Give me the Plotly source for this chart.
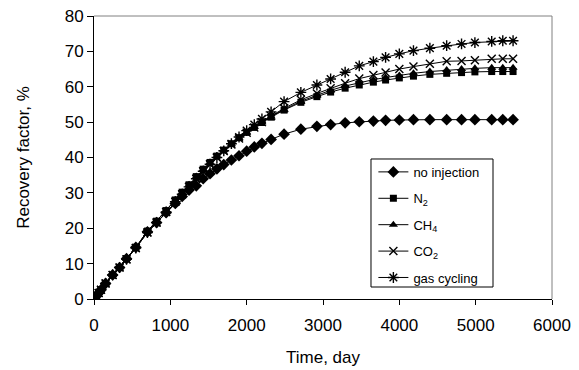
import plotly.graph_objects as go

days = [0, 30, 61, 91, 152, 244, 335, 426, 548, 700, 820, 945, 1065, 1155, 1245,
        1340, 1430, 1520, 1610, 1700, 1800, 1900, 2000, 2100, 2200, 2320, 2490,
        2710, 2920, 3100, 3290, 3475, 3660, 3820, 4000, 4185, 4400, 4620, 4815,
        4990, 5210, 5355, 5490]

no_injection = [0, 0.8, 1.7, 2.6, 4.4, 6.8, 8.9, 11.4, 14.6, 19.0, 21.6, 24.4, 27.0,
                29.0, 30.8, 32.0, 34.0, 35.4, 36.8, 38.0, 39.3, 40.5, 41.8, 43.0,
                44.0, 45.1, 46.6, 48.0, 48.8, 49.3, 49.8, 50.1, 50.3, 50.5, 50.6,
                50.7, 50.7, 50.7, 50.7, 50.7, 50.7, 50.7, 50.7]

n2 = [0, 0.8, 1.7, 2.6, 4.4, 6.8, 8.9, 11.4, 14.6, 19.2, 22.0, 25.0, 28.0, 30.2,
      32.3, 34.6, 36.7, 38.6, 40.4, 42.1, 43.9, 45.6, 47.1, 48.5, 49.9, 51.4, 53.4,
      55.6, 57.2, 58.5, 59.6, 60.5, 61.3, 61.9, 62.5, 63.0, 63.5, 63.8, 64.0, 64.2,
      64.3, 64.3, 64.3]

ch4 = [0, 0.8, 1.7, 2.6, 4.4, 6.8, 8.9, 11.4, 14.6, 19.2, 22.0, 25.0, 28.0, 30.2,
       32.3, 34.6, 36.7, 38.6, 40.4, 42.1, 43.9, 45.6, 47.1, 48.6, 50.0, 51.6, 53.6,
       55.9, 57.6, 59.0, 60.2, 61.2, 62.0, 62.6, 63.2, 63.8, 64.3, 64.7, 65.0, 65.2,
       65.4, 65.4, 65.4]

co2 = [0, 0.8, 1.7, 2.6, 4.4, 6.8, 8.9, 11.2, 14.4, 18.8, 21.6, 24.6, 27.5, 29.6,
       31.7, 34.0, 36.1, 38.1, 40.0, 41.8, 43.7, 45.4, 47.0, 48.5, 50.0, 51.7, 53.9,
       56.3, 58.1, 59.6, 61.0, 62.3, 63.3, 64.0, 65.0, 65.7, 66.5, 67.2, 67.3, 67.5,
       67.9, 67.9, 67.9]

gas_cycling = [0, 0.8, 1.7, 2.6, 4.4, 6.8, 8.9, 11.2, 14.4, 18.8, 21.6, 24.6, 27.5,
               29.6, 31.7, 34.0, 36.1, 38.1, 40.0, 41.9, 43.9, 45.8, 47.6, 49.3,
               50.9, 52.9, 55.8, 58.4, 60.5, 62.2, 64.1, 65.9, 67.1, 68.3, 69.3,
               70.2, 70.9, 71.6, 72.1, 72.5, 72.8, 73.0, 73.0]

x_ticks = [0, 1000, 2000, 3000, 4000, 5000, 6000]
y_ticks = [0, 10, 20, 30, 40, 50, 60, 70, 80]

series = [
    ("no injection", no_injection, "diamond", 9, 0),
    ("N<sub>2</sub>", n2, "square", 7, 0),
    ("CH<sub>4</sub>", ch4, "triangle-up", 8, 0),
    ("CO<sub>2</sub>", co2, "x-thin-open", 8, 1.4),
    ("gas cycling", gas_cycling, "asterisk-open", 9, 1.4),
]

fig = go.Figure()
for i, (name, vals, sym, size, lw) in enumerate(series):
    fig.add_trace(go.Scatter(
        x=days, y=vals, name=name, mode="lines+markers",
        line=dict(color="black", width=1),
        marker=dict(symbol=sym, size=size, color="black",
                    line=dict(color="black", width=lw)),
        legendgroup="g%d" % i,
    ))

font = "Liberation Sans, Arial, sans-serif"
fig.update_layout(
    width=579, height=370,
    margin=dict(l=94, r=27, t=16, b=71),
    paper_bgcolor="white", plot_bgcolor="white",
    font=dict(family=font, size=17, color="black"),
    showlegend=True,
    legend=dict(x=0.61, y=0.502, xanchor="left", yanchor="top",
                bgcolor="rgba(0,0,0,0)", borderwidth=0,
                font=dict(size=13, family=font), itemwidth=30,
                tracegroupgap=6.5),
    xaxis=dict(range=[0, 6000], tickvals=x_ticks, ticks="outside", ticklen=5,
               tickcolor="black", showline=True, linecolor="black", linewidth=1,
               showgrid=False, zeroline=False, ticklabelstandoff=6,
               automargin=False,
               title=dict(text="Time, day", font=dict(size=17), standoff=16)),
    yaxis=dict(range=[0, 80], tickvals=y_ticks, ticks="outside", ticklen=6,
               tickcolor="black", showline=True, linecolor="black", linewidth=1,
               showgrid=False, zeroline=False, automargin=False,
               title=dict(text="Recovery factor, %", font=dict(size=17), standoff=30)),
    shapes=[
        dict(type="line", xref="paper", yref="paper", x0=0, x1=1, y0=1, y1=1,
             line=dict(color="#808080", width=1)),
        dict(type="line", xref="paper", yref="paper", x0=1, x1=1, y0=0, y1=1,
             line=dict(color="#808080", width=1)),
        dict(type="rect", xref="paper", yref="paper", x0=0.6048, x1=0.8712,
             y0=0.0424, y1=0.4947, layer="above",
             line=dict(color="black", width=1), fillcolor="rgba(0,0,0,0)"),
    ],
)

fig.write_html("out.html")
